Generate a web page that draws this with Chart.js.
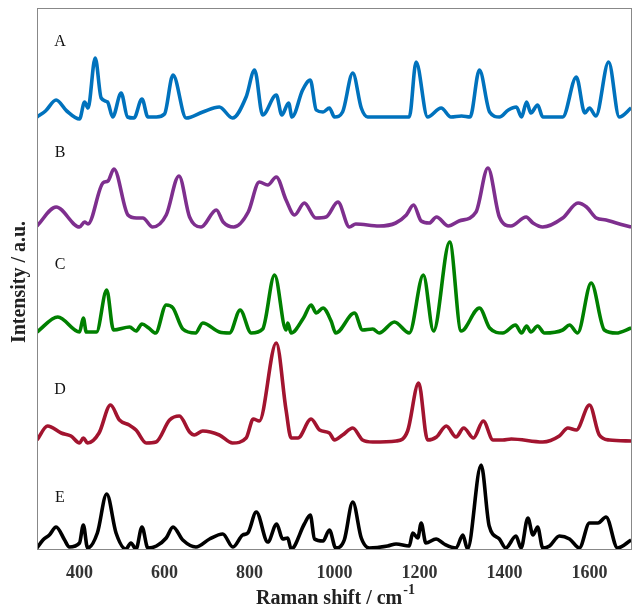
<!DOCTYPE html>
<html>
<head>
<meta charset="utf-8">
<script src="https://cdn.jsdelivr.net/npm/chart.js@4.4.0/dist/chart.umd.min.js"></script>
<style>
  html, body { margin: 0; padding: 0; background: #fff; }
  #wrap { width: 633px; height: 612px; position: relative; }
</style>
</head>
<body>
<div id="wrap"><canvas id="raman"></canvas></div>
<script>
// Raman spectra (intensity above each trace's own baseline)
const labels = ['A', 'B', 'C', 'D', 'E'];
const colors = ['#0072BD', '#7E2F8E', '#008000', '#A2142F', '#000000'];
const offsets = [432, 322, 216, 106, 0];
const labelY = [42, 153, 265, 390, 498];
const xTicks = [400, 600, 800, 1000, 1200, 1400, 1600];

const waveA = [300, 320, 345, 370, 400, 412, 420, 437, 451, 466, 478, 498, 513, 528, 547, 561, 581, 600, 620, 651, 690, 729, 760, 792, 812, 831, 863, 876, 892, 900, 925, 943, 957, 973, 988, 1000, 1019, 1043, 1063, 1078, 1137, 1176, 1192, 1219, 1251, 1274, 1299, 1319, 1341, 1365, 1388, 1409, 1428, 1440, 1452, 1462, 1478, 1490, 1537, 1569, 1589, 1600, 1615, 1645, 1670, 1698];
const intA = [0, 6, 17, 6, -2, 15, 9, 59, 19, 15, 0, 24, 0, -1, 18, 0, 0, 3, 42, -1, 5, 10, -1, 20, 47, 2, 22, 2, 14, 0, 27, 37, 7, 5, 9, 0, 5, 44, 9, 0, 0, 0, 55, 0, 9, 0, 1, 0, 47, 5, 0, 7, 10, 0, 15, 4, 12, 0, 0, 40, 4, 9, 1, 55, 0, 9];

const waveB = [300, 345, 400, 412, 420, 455, 467, 481, 514, 534, 549, 572, 604, 634, 659, 686, 722, 738, 763, 797, 823, 843, 863, 886, 906, 929, 956, 980, 1008, 1035, 1050, 1105, 1144, 1169, 1186, 1204, 1223, 1240, 1268, 1293, 1333, 1361, 1388, 1415, 1451, 1467, 1490, 1537, 1573, 1593, 1616, 1639, 1663, 1698];
const intB = [1, 20, 0, 5, 3, 44, 46, 58, 12, 9, 9, 0, 12, 51, 10, 0, 17, 5, 0, 15, 45, 42, 50, 27, 12, 24, 9, 10, 25, 0, 3, 1, 4, 12, 22, 6, 4, 10, 1, 6, 15, 59, 10, 1, 10, 4, 0, 9, 24, 20, 9, 7, 4, 0];

const waveC = [300, 349, 400, 409, 416, 440, 464, 480, 518, 533, 547, 563, 579, 604, 620, 643, 673, 690, 729, 753, 778, 804, 831, 859, 886, 890, 898, 927, 945, 957, 973, 992, 1003, 1047, 1066, 1090, 1105, 1141, 1176, 1209, 1233, 1271, 1298, 1341, 1365, 1396, 1426, 1440, 1452, 1462, 1478, 1494, 1537, 1553, 1572, 1604, 1635, 1663, 1698];
const intC = [1, 16, 1, 15, 1, 1, 43, 3, 6, 2, 9, 5, 0, 28, 25, 4, 0, 10, 1, 0, 23, 0, 4, 58, 3, 10, 0, 15, 28, 20, 25, 12, 0, 20, 3, 4, 0, 11, 0, 58, 2, 91, 2, 25, 5, 0, 8, 0, 7, 1, 7, 0, 3, 8, 0, 50, 3, 0, 5];

const waveD = [300, 325, 357, 380, 400, 409, 419, 446, 473, 494, 517, 533, 557, 580, 612, 635, 659, 670, 690, 729, 760, 792, 809, 823, 863, 886, 898, 914, 945, 965, 988, 1000, 1019, 1043, 1066, 1090, 1145, 1172, 1198, 1219, 1240, 1263, 1286, 1304, 1327, 1350, 1373, 1396, 1416, 1490, 1529, 1549, 1569, 1600, 1623, 1647, 1698];
const intD = [3, 17, 10, 7, 0, 5, 0, 10, 38, 23, 18, 13, 0, 1, 23, 27, 11, 8, 12, 8, 0, 5, 24, 22, 100, 33, 5, 5, 24, 13, 10, 3, 8, 15, 3, 1, 2, 12, 60, 3, 6, 17, 6, 15, 5, 22, 3, 3, 4, 1, 7, 15, 13, 38, 8, 3, 2];

const waveE = [300, 314, 329, 345, 365, 376, 400, 409, 419, 442, 464, 486, 509, 521, 533, 547, 561, 581, 604, 620, 643, 674, 706, 737, 761, 784, 796, 816, 843, 864, 878, 890, 898, 929, 943, 953, 973, 988, 1003, 1023, 1043, 1063, 1082, 1125, 1145, 1176, 1184, 1196, 1204, 1215, 1239, 1258, 1286, 1302, 1313, 1345, 1364, 1388, 1403, 1427, 1439, 1455, 1467, 1478, 1490, 1506, 1529, 1553, 1576, 1600, 1620, 1639, 1666, 1698];
const intE = [1, 9, 14, 22, 9, 2, 6, 24, 1, 16, 55, 16, 0, 6, 0, 22, 1, 3, 11, 22, 9, 2, 10, 15, 2, 14, 16, 37, 7, 25, 10, 11, 0, 25, 34, 10, 8, 19, 1, 9, 47, 11, 1, 3, 5, 3, 16, 11, 26, 6, 10, 5, 1, 14, 0, 84, 23, 10, 1, 13, 1, 31, 14, 22, 1, 3, 13, 10, 1, 26, 26, 32, 1, 9];

const waves = [waveA, waveB, waveC, waveD, waveE];
const ints = [intA, intB, intC, intD, intE];

const SERIF = '"Liberation Serif", "Times New Roman", serif';

const datasets = labels.map((name, i) => ({
  label: name,
  data: waves[i].map((w, k) => ({ x: w, y: ints[i][k] + offsets[i] })),
  borderColor: colors[i],
  borderWidth: 3.6,
  pointRadius: 0,
  cubicInterpolationMode: 'monotone',
  fill: false,
}));

// Frame, trace letters and axis titles (superscript needs manual drawing)
const decorations = {
  id: 'decorations',
  afterDraw(chart) {
    const { ctx, chartArea: a } = chart;
    ctx.save();
    ctx.strokeStyle = '#888';
    ctx.lineWidth = 1;
    ctx.strokeRect(a.left + 0.5, a.top + 0.5, a.right - a.left - 1, a.bottom - a.top);

    ctx.fillStyle = '#111';
    ctx.font = '16px ' + SERIF;
    ctx.textAlign = 'center';
    ctx.textBaseline = 'middle';
    labels.forEach((name, i) => ctx.fillText(name, 60, labelY[i]));

    ctx.fillStyle = '#222';
    ctx.font = 'bold 20px ' + SERIF;
    ctx.textAlign = 'left';
    ctx.textBaseline = 'alphabetic';
    const main = 'Raman shift / cm';
    const w = ctx.measureText(main).width;
    ctx.font = 'bold 14px ' + SERIF;
    const sw = ctx.measureText('-1').width;
    const x0 = 335 - (w + sw) / 2;
    ctx.font = 'bold 20px ' + SERIF;
    ctx.fillText(main, x0, 604);
    ctx.font = 'bold 14px ' + SERIF;
    ctx.fillText('-1', x0 + w + 1, 594);

    ctx.translate(20, 282);
    ctx.rotate(-Math.PI / 2);
    ctx.font = 'bold 20px ' + SERIF;
    ctx.textAlign = 'center';
    ctx.textBaseline = 'middle';
    ctx.fillText('Intensity / a.u.', 0, 0);
    ctx.restore();
  },
};

new Chart(document.getElementById('raman'), {
  type: 'line',
  data: { datasets },
  options: {
    responsive: true,
    maintainAspectRatio: false,
    animation: false,
    layout: { padding: { left: 37, right: 1, top: 8, bottom: 0 } },
    plugins: { legend: { display: false }, tooltip: { enabled: false } },
    scales: {
      x: {
        type: 'linear',
        min: 300,
        max: 1700,
        border: { display: false },
        grid: { display: false },
        afterBuildTicks: (s) => { s.ticks = xTicks.map((v) => ({ value: v })); },
        afterFit: (s) => { s.height = 63; },
        ticks: {
          color: '#333',
          padding: 6,
          maxRotation: 0,
          callback: (v) => String(v),
          font: { family: SERIF, size: 18, weight: 'bold' },
        },
      },
      y: {
        display: false,
        min: 0,
        max: 541,
      },
    },
  },
  plugins: [decorations],
});
</script>
</body>
</html>
